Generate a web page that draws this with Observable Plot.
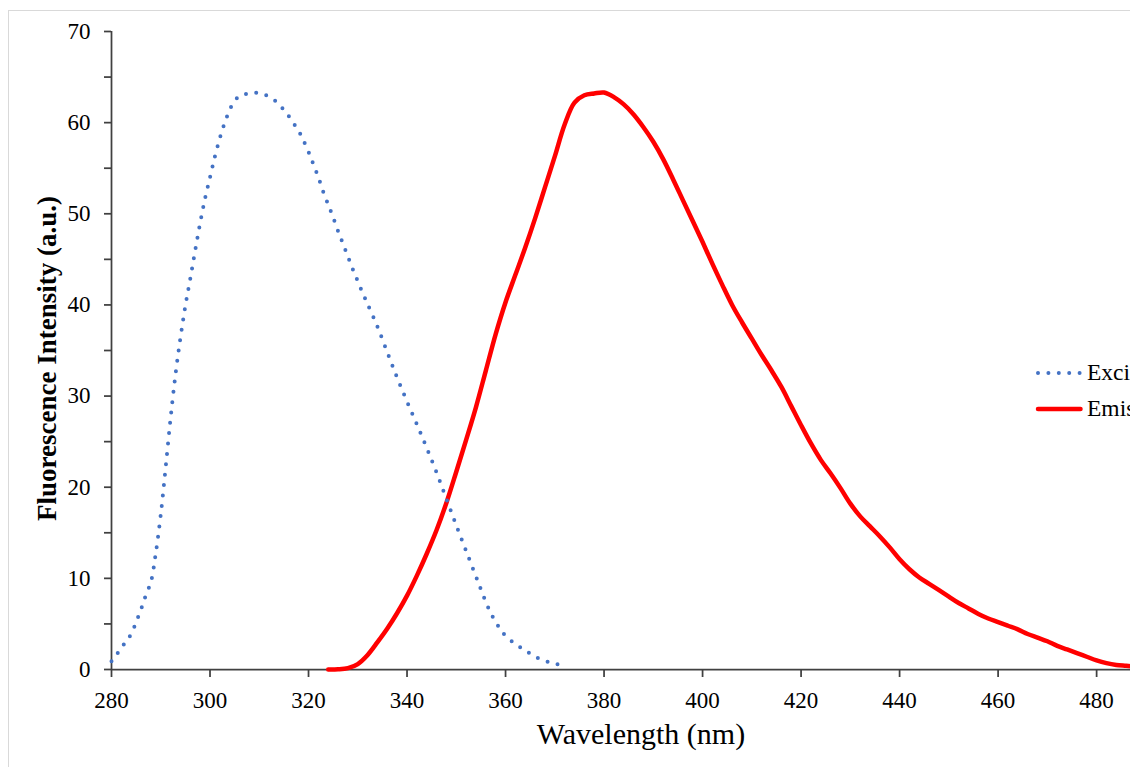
<!DOCTYPE html>
<html>
<head>
<meta charset="utf-8">
<script src="https://cdn.jsdelivr.net/npm/d3@7"></script>
<script src="https://cdn.jsdelivr.net/npm/@observablehq/plot@0.6"></script>
<style>
  html, body { margin: 0; padding: 0; width: 1130px; height: 767px; overflow: hidden; background: #fff; }
  #frame { position: absolute; left: 8px; top: 10px; width: 1300px; height: 900px; border: 1px solid #d9d9d9; box-sizing: border-box; }
  #chart { position: absolute; left: 0; top: 0; width: 1170px; height: 767px; }
  #chart svg { max-width: none !important; }
  #legend { position: absolute; left: 0; top: 0; }
</style>
</head>
<body>
<div id="frame"></div>
<div id="chart"></div>
<svg id="legend" width="1130" height="767"></svg>
<script>
// ---- data ----
const excitationWavelength = [280,281,282,283,284,285,286,287,288,289,290,291,292,293,294,295,296,297,298,299,300,301,302,303,304,305,306,307,308,309,310,311,312,313,314,315,316,317,318,319,320,321,322,323,324,325,326,327,328,329,330,331,332,334,336,338,340,342,344,346,348,350,352,354,355,356,357,358,359,360,362,364,366,368,370,372];
const excitationIntensity = [0.9,1.6,2.4,3.1,3.9,5.2,6.6,8.2,9.6,12.8,17.0,22.2,27.6,32.4,36.4,39.9,42.9,46.0,49.0,51.7,54.0,56.3,58.3,60.0,61.4,62.4,62.9,63.1,63.2,63.3,63.2,63.1,62.8,62.5,62.0,61.4,60.7,59.9,59.1,58.0,56.8,55.4,54.0,52.4,51.0,49.6,48.1,46.7,45.3,43.9,42.6,41.3,40.1,37.6,34.8,32.0,29.4,26.9,24.3,21.6,18.7,15.8,13.0,10.2,8.8,7.4,6.2,5.2,4.4,3.7,2.8,2.1,1.4,0.95,0.65,0.45];

const emissionWavelength = [324,326,328,330,332,334,336,338,340,342,344,346,348,350,352,354,356,358,360,362,364,366,368,370,372,374,376,378,380,382,384,386,388,390,392,394,396,398,400,402,404,406,408,410,412,414,416,418,420,422,424,426,428,430,432,434,436,438,440,442,444,446,448,450,452,454,456,458,460,462,464,466,468,470,472,474,476,478,480,482,484,486,488,490];
const emissionIntensity = [0,0.02,0.15,0.6,1.6,3.0,4.5,6.2,8.1,10.3,12.7,15.3,18.3,21.7,25.2,28.8,32.8,36.8,40.3,43.3,46.3,49.5,52.9,56.3,59.8,62.2,63.0,63.2,63.3,62.8,62.0,60.9,59.5,57.9,56.0,53.8,51.5,49.2,46.9,44.5,42.2,40.0,38.1,36.3,34.5,32.8,31.0,28.9,26.8,24.8,23.0,21.5,19.9,18.2,16.8,15.7,14.6,13.4,12.1,11.0,10.1,9.4,8.7,8.0,7.3,6.7,6.1,5.6,5.2,4.8,4.4,3.9,3.5,3.1,2.6,2.2,1.8,1.4,1.0,0.7,0.5,0.4,0.3,0.2];

const xTicks = [280,300,320,340,360,380,400,420,440,460,480];
const yTicks = [0,10,20,30,40,50,60,70];
const yMinorTicks = [5,15,25,35,45,55,65];
const seriesNames = ["Excitation", "Emission"];
const xTitle = "Wavelength (nm)";
const yTitle = "Fluorescence Intensity (a.u.)";

const excitation = excitationWavelength.map((w, i) => ({w, v: excitationIntensity[i]}));
const emission = emissionWavelength.map((w, i) => ({w, v: emissionIntensity[i]}));

const font = '"Liberation Serif", "Times New Roman", serif';
const axisColor = "#404040";

const chart = Plot.plot({
  width: 1170,
  height: 767,
  marginLeft: 111,
  marginRight: 0,
  marginTop: 31,
  marginBottom: 98,
  style: {fontFamily: font, fontSize: "23px", color: "#000", background: "transparent", overflow: "visible", maxWidth: "none"},
  x: {domain: [280, 495]},
  y: {domain: [0, 70]},
  marks: [
    Plot.axisX({ticks: xTicks, tickSize: 8, tickPadding: 14, tickFormat: d => d, label: null, stroke: axisColor, strokeWidth: 1.75, fontSize: 23}),
    Plot.axisY({ticks: yTicks, tickSize: 7, tickPadding: 14, tickFormat: d => d, label: null, stroke: axisColor, strokeWidth: 1.75, fontSize: 23}),
    Plot.axisY({ticks: yMinorTicks, tickSize: 7, tickFormat: () => "", label: null, stroke: axisColor, strokeWidth: 1.75}),
    Plot.ruleX([280], {stroke: axisColor, strokeWidth: 1.75}),
    Plot.ruleY([0], {stroke: axisColor, strokeWidth: 1.75}),
    Plot.line(emission, {x: "w", y: "v", stroke: "#ff0000", strokeWidth: 4.5, curve: "catmull-rom", strokeLinecap: "round"}),
    Plot.line(excitation, {x: "w", y: "v", stroke: "#4472c4", strokeWidth: 4, strokeDasharray: "0 10.4", strokeLinecap: "round", curve: "catmull-rom"}),
    Plot.text([yTitle], {frameAnchor: "left", rotate: -90, dx: -64, dy: 8, textAnchor: "middle", lineAnchor: "middle", fontSize: 27, fontWeight: "bold", fill: "#000"}),
    Plot.text([xTitle], {frameAnchor: "bottom", dy: 64.4, textAnchor: "middle", lineAnchor: "middle", fontSize: 30, fill: "#000"})
  ]
});
document.getElementById("chart").appendChild(chart);

// ---- legend (outside the plot area, clipped by the window like the reference) ----
const legend = d3.select("#legend");
const entries = [
  {name: seriesNames[0], stroke: "#4472c4", width: 4, dash: "0 10.4", y: 373},
  {name: seriesNames[1], stroke: "#ff0000", width: 4.5, dash: null, y: 409}
];
entries.forEach(e => {
  legend.append("line").attr("x1", 1038).attr("x2", 1080.5).attr("y1", e.y).attr("y2", e.y)
    .attr("stroke", e.stroke).attr("stroke-width", e.width).attr("stroke-linecap", "round")
    .attr("stroke-dasharray", e.dash);
  legend.append("text").attr("x", 1087).attr("y", e.y + 7).text(e.name)
    .attr("font-family", font).attr("font-size", 23.5).attr("fill", "#000");
});
</script>
</body>
</html>
